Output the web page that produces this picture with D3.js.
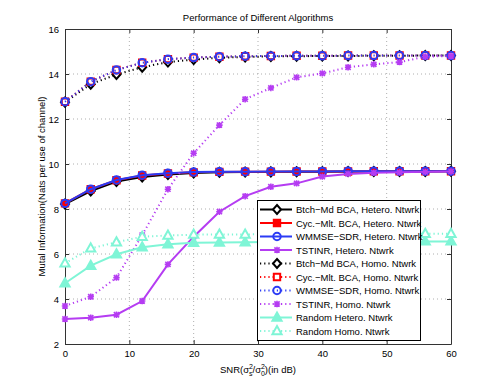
<!DOCTYPE html>
<html lang="en">
<head>
	<meta charset="utf-8">
	<title>Performance of Different Algorithms</title>
	<script type="text/javascript" src="https://d3js.org/d3.v7.min.js"></script>
	<style type="text/css">
		body { margin: 0; background: white; }
		text { font-family: "Liberation Sans", Arial, sans-serif; fill: #000; }
	</style>
</head>
<body>
<script type="text/javascript">
	// SNR values (dB)
	var snr = [0, 4, 8, 12, 16, 20, 24, 28, 32, 36, 40, 44, 48, 52, 56, 60];

	// heterogeneous network
	var bcaHet   = [8.22, 8.80, 9.22, 9.42, 9.53, 9.60, 9.63, 9.64, 9.65, 9.66, 9.66, 9.67, 9.67, 9.67, 9.67, 9.68];
	var cycHet   = [8.25, 8.88, 9.28, 9.49, 9.58, 9.63, 9.65, 9.66, 9.66, 9.67, 9.67, 9.67, 9.68, 9.68, 9.68, 9.68];
	var wmmseHet = [8.25, 8.88, 9.29, 9.50, 9.59, 9.64, 9.66, 9.66, 9.67, 9.67, 9.67, 9.68, 9.68, 9.68, 9.68, 9.68];
	var tstHet   = [3.11, 3.17, 3.30, 3.91, 5.54, 6.77, 7.88, 8.57, 8.99, 9.14, 9.44, 9.56, 9.61, 9.63, 9.65, 9.67];

	// homogeneous network
	var bcaHomo   = [12.75, 13.55, 13.98, 14.30, 14.53, 14.64, 14.72, 14.76, 14.78, 14.79, 14.80, 14.80, 14.81, 14.81, 14.82, 14.82];
	var cycHomo   = [12.77, 13.66, 14.18, 14.50, 14.66, 14.73, 14.77, 14.79, 14.80, 14.81, 14.81, 14.82, 14.82, 14.82, 14.82, 14.82];
	var wmmseHomo = [12.77, 13.66, 14.18, 14.50, 14.66, 14.73, 14.77, 14.79, 14.80, 14.81, 14.81, 14.82, 14.82, 14.82, 14.82, 14.82];
	var tstHomo   = [3.69, 4.10, 4.95, 6.84, 8.88, 10.48, 11.73, 12.88, 13.38, 13.85, 14.03, 14.30, 14.43, 14.53, 14.77, 14.80];

	// random baseline
	var randHet  = [4.70, 5.48, 5.99, 6.30, 6.43, 6.50, 6.51, 6.52, 6.53, 6.53, 6.54, 6.54, 6.55, 6.55, 6.56, 6.56];
	var randHomo = [5.59, 6.25, 6.52, 6.77, 6.82, 6.86, 6.87, 6.87, 6.88, 6.88, 6.88, 6.89, 6.89, 6.89, 6.90, 6.90];

	var xTicks = [0, 10, 20, 30, 40, 50, 60];
	var yTicks = [2, 4, 6, 8, 10, 12, 14, 16];

	var series = [
		{name: "Btch\u2212Md BCA, Hetero. Ntwrk", values: bcaHet, color: "#000000", dash: null, marker: "diamond", fill: "white"},
		{name: "Cyc.\u2212Mlt. BCA, Hetero. Ntwrk", values: cycHet, color: "#ff0000", dash: null, marker: "square", fill: "#ff0000"},
		{name: "WMMSE\u2212SDR, Hetero. Ntwrk", values: wmmseHet, color: "#2b3bf5", dash: null, marker: "circle", fill: "none"},
		{name: "TSTINR, Hetero. Ntwrk", values: tstHet, color: "#b53cf2", dash: null, marker: "x", fill: "none"},
		{name: "Btch\u2212Md BCA, Homo. Ntwrk", values: bcaHomo, color: "#000000", dash: "1.2,3", marker: "diamond", fill: "white"},
		{name: "Cyc.\u2212Mlt. BCA, Homo. Ntwrk", values: cycHomo, color: "#ff0000", dash: "1.2,3", marker: "square", fill: "white"},
		{name: "WMMSE\u2212SDR, Homo. Ntwrk", values: wmmseHomo, color: "#2b3bf5", dash: "1.2,3", marker: "circle", fill: "none"},
		{name: "TSTINR, Homo. Ntwrk", values: tstHomo, color: "#b53cf2", dash: "1.2,3", marker: "x", fill: "none"},
		{name: "Random Hetero. Ntwrk", values: randHet, color: "#7ff5d6", dash: null, marker: "triangle", fill: "#7ff5d6"},
		{name: "Random Homo. Ntwrk", values: randHomo, color: "#7ff5d6", dash: "1.2,3", marker: "triangle", fill: "white"}
	];

	var width = 498, height = 388;
	var pLeft = 65, pRight = 451, pTop = 29, pBottom = 344;

	var x = d3.scaleLinear().domain([0, 60]).range([pLeft, pRight]);
	var y = d3.scaleLinear().domain([2, 16]).range([pBottom, pTop]);

	var svg = d3.select("body").append("svg")
		.attr("width", width)
		.attr("height", height);

	// grid
	svg.append("g").selectAll("line")
		.data(xTicks.slice(1, -1))
		.enter().append("line")
		.attr("x1", function(d) { return x(d); })
		.attr("x2", function(d) { return x(d); })
		.attr("y1", pTop).attr("y2", pBottom)
		.attr("stroke", "#9a9a9a").attr("stroke-width", 0.8)
		.attr("stroke-dasharray", "1,3");
	svg.append("g").selectAll("line")
		.data(yTicks.slice(1, -1))
		.enter().append("line")
		.attr("y1", function(d) { return y(d); })
		.attr("y2", function(d) { return y(d); })
		.attr("x1", pLeft).attr("x2", pRight)
		.attr("stroke", "#9a9a9a").attr("stroke-width", 0.8)
		.attr("stroke-dasharray", "1,3");

	// axes with inward ticks, box on
	svg.append("g")
		.attr("transform", "translate(0," + pBottom + ")")
		.call(d3.axisBottom(x).tickValues(xTicks).tickSizeInner(-4).tickSizeOuter(0).tickPadding(6));
	svg.append("g")
		.attr("transform", "translate(" + pLeft + ",0)")
		.call(d3.axisLeft(y).tickValues(yTicks).tickSizeInner(-4).tickSizeOuter(0).tickPadding(6));
	svg.append("g")
		.attr("transform", "translate(0," + pTop + ")")
		.call(d3.axisTop(x).tickValues(xTicks).tickSizeInner(-4).tickSizeOuter(0).tickFormat(""));
	svg.append("g")
		.attr("transform", "translate(" + pRight + ",0)")
		.call(d3.axisRight(y).tickValues(yTicks).tickSizeInner(-4).tickSizeOuter(0).tickFormat(""));

	svg.selectAll(".domain").attr("stroke", "#333").attr("stroke-width", 1);
	svg.selectAll(".tick line").attr("stroke", "#333");
	svg.selectAll(".tick text")
		.style("font-family", "Liberation Sans, Arial, sans-serif")
		.style("font-size", "9.5px")
		.attr("fill", "#000");

	// markers
	function markerPath(type) {
		if (type === "diamond") return "M0,-4.5L4,0L0,4.5L-4,0Z";
		if (type === "square") return "M-3.2,-3.2H3.2V3.2H-3.2Z";
		if (type === "circle") return d3.symbol().type(d3.symbolCircle).size(44)();
		if (type === "triangle") return "M0,-5L4.6,3.2H-4.6Z";
		return "M-2.6,-2.6L2.6,2.6M-2.6,2.6L2.6,-2.6M0,-3.2V3.2M-3.2,0H3.2";
	}

	var line = d3.line()
		.x(function(d, i) { return x(snr[i]); })
		.y(function(d) { return y(d); });

	var plot = svg.append("g");
	series.forEach(function(s) {
		var g = plot.append("g");
		g.append("path")
			.datum(s.values)
			.attr("d", line)
			.attr("fill", "none")
			.attr("stroke", s.color)
			.attr("stroke-width", 2)
			.attr("stroke-dasharray", s.dash);
		g.selectAll("path.m")
			.data(s.values)
			.enter().append("path")
			.attr("class", "m")
			.attr("transform", function(d, i) { return "translate(" + x(snr[i]) + "," + y(d) + ")"; })
			.attr("d", markerPath(s.marker))
			.attr("fill", s.fill)
			.attr("stroke", s.color)
			.attr("stroke-width", s.marker === "x" ? 1.6 : 2);
	});

	// legend
	var lg = svg.append("g");
	lg.append("rect")
		.attr("x", 257.5).attr("y", 200.5)
		.attr("width", 163).attr("height", 140)
		.attr("fill", "white").attr("stroke", "#000").attr("stroke-width", 1);
	var row = lg.selectAll("g.row")
		.data(series)
		.enter().append("g")
		.attr("class", "row")
		.attr("transform", function(d, i) { return "translate(0," + (209.5 + i * 13.5) + ")"; });
	row.append("line")
		.attr("x1", 260).attr("x2", 292)
		.attr("stroke", function(d) { return d.color; })
		.attr("stroke-width", 2)
		.attr("stroke-dasharray", function(d) { return d.dash; });
	row.append("path")
		.attr("transform", "translate(277,0)")
		.attr("d", function(d) { return markerPath(d.marker); })
		.attr("fill", function(d) { return d.fill; })
		.attr("stroke", function(d) { return d.color; })
		.attr("stroke-width", function(d) { return d.marker === "x" ? 1.6 : 2; });
	row.append("text")
		.attr("x", 296).attr("y", 3.5)
		.style("font-size", "9.5px")
		.text(function(d) { return d.name; });

	// title and labels
	svg.append("text")
		.attr("x", 258).attr("y", 21)
		.attr("text-anchor", "middle")
		.style("font-size", "9.5px")
		.text("Performance of Different Algorithms");

	svg.append("text")
		.attr("transform", "translate(45," + ((pTop + pBottom) / 2) + ") rotate(-90)")
		.attr("text-anchor", "middle")
		.style("font-size", "9.5px")
		.text("Mutal Information(Nats per use of channel)");

	var xl = svg.append("text")
		.attr("x", 258).attr("y", 373)
		.attr("text-anchor", "middle")
		.style("font-size", "9.5px");
	xl.append("tspan").text("SNR(\u03c3");
	xl.append("tspan").attr("dy", -4).style("font-size", "7px").text("2");
	xl.append("tspan").attr("dx", -4).attr("dy", 7).style("font-size", "7px").text("s");
	xl.append("tspan").attr("dy", -3).text("/\u03c3");
	xl.append("tspan").attr("dy", -4).style("font-size", "7px").text("2");
	xl.append("tspan").attr("dx", -4).attr("dy", 7).style("font-size", "7px").text("0");
	xl.append("tspan").attr("dy", -3).text(")(in dB)");
</script>
</body>
</html>
